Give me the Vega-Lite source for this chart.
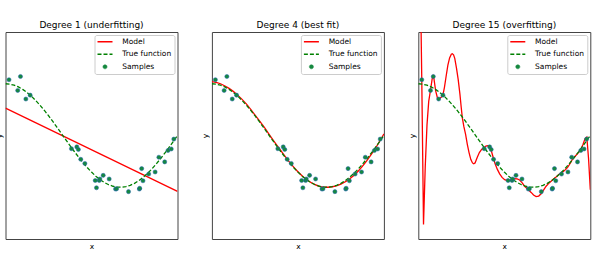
{
  "$schema": "https://vega.github.io/schema/vega-lite/v6.json",
  "padding": {"left": -5.5, "top": 20, "right": 0, "bottom": 0},
  "datasets": {
    "samples": [
      {"x": 0.0202, "y": 1.078}, {"x": 0.0710, "y": 0.87}, {"x": 0.0871, "y": 1.14}, {"x": 0.1183, "y": 0.705}, {"x": 0.1434, "y": 0.78},
      {"x": 0.3834, "y": -0.255}, {"x": 0.4147, "y": -0.22}, {"x": 0.4237, "y": -0.27}, {"x": 0.4376, "y": -0.46}, {"x": 0.4615, "y": -0.54},
      {"x": 0.5218, "y": -0.87}, {"x": 0.5289, "y": -1.01}, {"x": 0.5449, "y": -0.87}, {"x": 0.5488, "y": -0.84}, {"x": 0.5680, "y": -0.77},
      {"x": 0.6028, "y": -0.84}, {"x": 0.6399, "y": -1.035}, {"x": 0.6459, "y": -1.03}, {"x": 0.7152, "y": -1.085}, {"x": 0.7782, "y": -1.035},
      {"x": 0.7805, "y": -1.02}, {"x": 0.7917, "y": -0.64}, {"x": 0.7992, "y": -0.875}, {"x": 0.8326, "y": -0.745}, {"x": 0.8700, "y": -0.705},
      {"x": 0.8918, "y": -0.42}, {"x": 0.9256, "y": -0.51}, {"x": 0.9447, "y": -0.29}, {"x": 0.9637, "y": -0.26}, {"x": 0.9786, "y": -0.07}
    ],
    "truth": [
      {"x": 0, "y": 1}, {"x": 0.025, "y": 0.99307}, {"x": 0.05, "y": 0.97237}, {"x": 0.075, "y": 0.93819}, {"x": 0.1, "y": 0.89101},
      {"x": 0.125, "y": 0.83147}, {"x": 0.15, "y": 0.76041}, {"x": 0.175, "y": 0.6788}, {"x": 0.2, "y": 0.58779}, {"x": 0.225, "y": 0.48862},
      {"x": 0.25, "y": 0.38268}, {"x": 0.275, "y": 0.27144}, {"x": 0.3, "y": 0.15643}, {"x": 0.325, "y": 0.03926}, {"x": 0.35, "y": -0.07846},
      {"x": 0.375, "y": -0.19509}, {"x": 0.4, "y": -0.30902}, {"x": 0.425, "y": -0.41866}, {"x": 0.45, "y": -0.5225}, {"x": 0.475, "y": -0.61909},
      {"x": 0.5, "y": -0.70711}, {"x": 0.525, "y": -0.78531}, {"x": 0.55, "y": -0.85264}, {"x": 0.575, "y": -0.90814}, {"x": 0.6, "y": -0.95106},
      {"x": 0.625, "y": -0.98079}, {"x": 0.65, "y": -0.99692}, {"x": 0.675, "y": -0.99923}, {"x": 0.7, "y": -0.98769}, {"x": 0.725, "y": -0.96246},
      {"x": 0.75, "y": -0.92388}, {"x": 0.775, "y": -0.8725}, {"x": 0.8, "y": -0.80902}, {"x": 0.825, "y": -0.73432}, {"x": 0.85, "y": -0.64945},
      {"x": 0.875, "y": -0.55557}, {"x": 0.9, "y": -0.45399}, {"x": 0.925, "y": -0.34612}, {"x": 0.95, "y": -0.23345}, {"x": 0.975, "y": -0.11753},
      {"x": 1, "y": 0}
    ],
    "m1": [{"x": 0, "y": 0.53}, {"x": 1, "y": -1.08}],
    "m4": [
      {"x": 0, "y": 1.04}, {"x": 0.05, "y": 1.0}, {"x": 0.1, "y": 0.91}, {"x": 0.15, "y": 0.78}, {"x": 0.2, "y": 0.61},
      {"x": 0.25, "y": 0.4}, {"x": 0.3, "y": 0.18}, {"x": 0.35, "y": -0.06}, {"x": 0.4, "y": -0.29}, {"x": 0.45, "y": -0.51},
      {"x": 0.5, "y": -0.7}, {"x": 0.55, "y": -0.85}, {"x": 0.6, "y": -0.95}, {"x": 0.65, "y": -1.0}, {"x": 0.7, "y": -0.99},
      {"x": 0.75, "y": -0.94}, {"x": 0.8, "y": -0.84}, {"x": 0.85, "y": -0.69}, {"x": 0.9, "y": -0.49}, {"x": 0.95, "y": -0.25},
      {"x": 1, "y": 0.03}
    ],
    "m15": [
      {"x": 0, "y": 6}, {"x": 0.0101, "y": 3.5}, {"x": 0.0202, "y": 1.08}, {"x": 0.0303, "y": -1.72}, {"x": 0.0404, "y": -0.6},
      {"x": 0.0505, "y": 0.2}, {"x": 0.0606, "y": 0.66}, {"x": 0.0707, "y": 0.87}, {"x": 0.0808, "y": 1.1}, {"x": 0.0859, "y": 1.15},
      {"x": 0.0909, "y": 1.1}, {"x": 0.101, "y": 0.86}, {"x": 0.111, "y": 0.73}, {"x": 0.118, "y": 0.7}, {"x": 0.126, "y": 0.72},
      {"x": 0.136, "y": 0.75}, {"x": 0.143, "y": 0.78}, {"x": 0.152, "y": 0.93}, {"x": 0.162, "y": 1.15}, {"x": 0.172, "y": 1.36},
      {"x": 0.182, "y": 1.5}, {"x": 0.192, "y": 1.57}, {"x": 0.198, "y": 1.58}, {"x": 0.205, "y": 1.56}, {"x": 0.212, "y": 1.49},
      {"x": 0.222, "y": 1.3}, {"x": 0.232, "y": 1.08}, {"x": 0.242, "y": 0.8}, {"x": 0.249, "y": 0.56}, {"x": 0.256, "y": 0.34},
      {"x": 0.265, "y": 0.17}, {"x": 0.275, "y": 0.02}, {"x": 0.285, "y": -0.17}, {"x": 0.295, "y": -0.33}, {"x": 0.305, "y": -0.46},
      {"x": 0.315, "y": -0.53}, {"x": 0.322, "y": -0.545}, {"x": 0.33, "y": -0.53}, {"x": 0.343, "y": -0.42}, {"x": 0.355, "y": -0.33},
      {"x": 0.368, "y": -0.27}, {"x": 0.381, "y": -0.235}, {"x": 0.393, "y": -0.205}, {"x": 0.402, "y": -0.195}, {"x": 0.412, "y": -0.21},
      {"x": 0.424, "y": -0.29}, {"x": 0.436, "y": -0.43}, {"x": 0.446, "y": -0.54}, {"x": 0.459, "y": -0.65}, {"x": 0.473, "y": -0.74},
      {"x": 0.487, "y": -0.81}, {"x": 0.502, "y": -0.855}, {"x": 0.517, "y": -0.87}, {"x": 0.531, "y": -0.87}, {"x": 0.545, "y": -0.85},
      {"x": 0.56, "y": -0.835}, {"x": 0.575, "y": -0.84}, {"x": 0.589, "y": -0.86}, {"x": 0.603, "y": -0.91}, {"x": 0.618, "y": -0.98},
      {"x": 0.637, "y": -1.04}, {"x": 0.656, "y": -1.1}, {"x": 0.67, "y": -1.15}, {"x": 0.685, "y": -1.18}, {"x": 0.7, "y": -1.17},
      {"x": 0.714, "y": -1.125}, {"x": 0.729, "y": -1.05}, {"x": 0.743, "y": -0.98}, {"x": 0.757, "y": -0.93}, {"x": 0.772, "y": -0.885},
      {"x": 0.786, "y": -0.84}, {"x": 0.801, "y": -0.8}, {"x": 0.815, "y": -0.76}, {"x": 0.83, "y": -0.725}, {"x": 0.845, "y": -0.69},
      {"x": 0.859, "y": -0.65}, {"x": 0.869, "y": -0.61}, {"x": 0.878, "y": -0.565}, {"x": 0.888, "y": -0.51}, {"x": 0.897, "y": -0.455},
      {"x": 0.912, "y": -0.4}, {"x": 0.926, "y": -0.35}, {"x": 0.936, "y": -0.31}, {"x": 0.946, "y": -0.26}, {"x": 0.958, "y": -0.17},
      {"x": 0.9697, "y": -0.06}, {"x": 0.9798, "y": -0.03}, {"x": 0.9899, "y": -0.45}, {"x": 1, "y": -1.05}
    ]
  },
  "spacing": 34.4,
  "bounds": "flush",
  "resolve": {"scale": {"color": "independent"}},
  "hconcat": [
    {
      "width": 172, "height": 207,
      "title": "Degree 1 (underfitting)",
      "layer": [
        {"data": {"name": "m1"}, "mark": {"type": "line", "clip": true, "strokeWidth": 1.3},
         "encoding": {
           "x": {"field": "x", "type": "quantitative", "scale": {"domain": [0, 1], "nice": false, "zero": false}, "axis": {"title": "x"}},
           "y": {"field": "y", "type": "quantitative", "scale": {"domain": [-2, 2], "nice": false}, "axis": {"title": "y"}},
           "color": {"datum": "Model", "type": "nominal", "scale": {"domain": ["Model", "True function", "Samples"], "range": ["#ff0000", "#008000", "#15883f"]},
             "legend": {
               "orient": "top-right", "offset": 3, "title": null, "padding": 3,
               "strokeColor": "#cccccc", "fillColor": "rgba(255,255,255,0.85)", "cornerRadius": 2,
               "labelFontSize": 7.5, "labelColor": "#000000", "symbolOffset": 3.75, "labelOffset": 13.5, "rowPadding": 3.5,
               "symbolSize": 56, "symbolType": "stroke", "symbolStrokeWidth": 1.3,
               "encode": {"symbols": {"update": {
                 "shape": {"signal": "datum.value === 'Samples' ? 'circle' : 'stroke'"},
                 "size": {"signal": "datum.value === 'Samples' ? 17 : 225"},
                 "strokeDash": {"signal": "datum.value === 'True function' ? [4, 2] : [1, 0]"},
                 "strokeWidth": {"signal": "datum.value === 'Samples' ? 0.5 : 1.3"},
                 "stroke": {"signal": "datum.value === 'Model' ? '#ff0000' : datum.value === 'True function' ? '#008000' : '#2060b0'"},
                 "fill": {"signal": "datum.value === 'Samples' ? '#15883f' : 'transparent'"},
                 "opacity": {"value": 1}
               }}}
             }}
         }},
        {"data": {"name": "truth"}, "mark": {"type": "line", "clip": true, "strokeWidth": 1.3, "strokeDash": [4, 2]},
         "encoding": {"x": {"field": "x", "type": "quantitative"}, "y": {"field": "y", "type": "quantitative"}, "color": {"datum": "True function", "type": "nominal"}}},
        {"data": {"name": "samples"}, "mark": {"type": "point", "filled": true, "size": 17, "opacity": 1, "stroke": "#2060b0", "strokeWidth": 0.5},
         "encoding": {"x": {"field": "x", "type": "quantitative"}, "y": {"field": "y", "type": "quantitative"}, "color": {"datum": "Samples", "type": "nominal"}}}
      ]
    },
    {
      "width": 172, "height": 207,
      "title": "Degree 4 (best fit)",
      "layer": [
        {"data": {"name": "m4"}, "mark": {"type": "line", "clip": true, "strokeWidth": 1.3, "interpolate": "monotone"},
         "encoding": {
           "x": {"field": "x", "type": "quantitative", "scale": {"domain": [0, 1], "nice": false, "zero": false}, "axis": {"title": "x"}},
           "y": {"field": "y", "type": "quantitative", "scale": {"domain": [-2, 2], "nice": false}, "axis": {"title": "y"}},
           "color": {"datum": "Model", "type": "nominal", "scale": {"domain": ["Model", "True function", "Samples"], "range": ["#ff0000", "#008000", "#15883f"]},
             "legend": {
               "orient": "top-right", "offset": 3, "title": null, "padding": 3,
               "strokeColor": "#cccccc", "fillColor": "rgba(255,255,255,0.85)", "cornerRadius": 2,
               "labelFontSize": 7.5, "labelColor": "#000000", "symbolOffset": 3.75, "labelOffset": 13.5, "rowPadding": 3.5,
               "symbolSize": 56, "symbolType": "stroke", "symbolStrokeWidth": 1.3,
               "encode": {"symbols": {"update": {
                 "shape": {"signal": "datum.value === 'Samples' ? 'circle' : 'stroke'"},
                 "size": {"signal": "datum.value === 'Samples' ? 17 : 225"},
                 "strokeDash": {"signal": "datum.value === 'True function' ? [4, 2] : [1, 0]"},
                 "strokeWidth": {"signal": "datum.value === 'Samples' ? 0.5 : 1.3"},
                 "stroke": {"signal": "datum.value === 'Model' ? '#ff0000' : datum.value === 'True function' ? '#008000' : '#2060b0'"},
                 "fill": {"signal": "datum.value === 'Samples' ? '#15883f' : 'transparent'"},
                 "opacity": {"value": 1}
               }}}
             }}
         }},
        {"data": {"name": "truth"}, "mark": {"type": "line", "clip": true, "strokeWidth": 1.3, "strokeDash": [4, 2]},
         "encoding": {"x": {"field": "x", "type": "quantitative"}, "y": {"field": "y", "type": "quantitative"}, "color": {"datum": "True function", "type": "nominal"}}},
        {"data": {"name": "samples"}, "mark": {"type": "point", "filled": true, "size": 17, "opacity": 1, "stroke": "#2060b0", "strokeWidth": 0.5},
         "encoding": {"x": {"field": "x", "type": "quantitative"}, "y": {"field": "y", "type": "quantitative"}, "color": {"datum": "Samples", "type": "nominal"}}}
      ]
    },
    {
      "width": 172, "height": 207,
      "title": "Degree 15 (overfitting)",
      "layer": [
        {"data": {"name": "m15"}, "mark": {"type": "line", "clip": true, "strokeWidth": 1.3},
         "encoding": {
           "x": {"field": "x", "type": "quantitative", "scale": {"domain": [0, 1], "nice": false, "zero": false}, "axis": {"title": "x"}},
           "y": {"field": "y", "type": "quantitative", "scale": {"domain": [-2, 2], "nice": false}, "axis": {"title": "y"}},
           "color": {"datum": "Model", "type": "nominal", "scale": {"domain": ["Model", "True function", "Samples"], "range": ["#ff0000", "#008000", "#15883f"]},
             "legend": {
               "orient": "top-right", "offset": 3, "title": null, "padding": 3,
               "strokeColor": "#cccccc", "fillColor": "rgba(255,255,255,0.85)", "cornerRadius": 2,
               "labelFontSize": 7.5, "labelColor": "#000000", "symbolOffset": 3.75, "labelOffset": 13.5, "rowPadding": 3.5,
               "symbolSize": 56, "symbolType": "stroke", "symbolStrokeWidth": 1.3,
               "encode": {"symbols": {"update": {
                 "shape": {"signal": "datum.value === 'Samples' ? 'circle' : 'stroke'"},
                 "size": {"signal": "datum.value === 'Samples' ? 17 : 225"},
                 "strokeDash": {"signal": "datum.value === 'True function' ? [4, 2] : [1, 0]"},
                 "strokeWidth": {"signal": "datum.value === 'Samples' ? 0.5 : 1.3"},
                 "stroke": {"signal": "datum.value === 'Model' ? '#ff0000' : datum.value === 'True function' ? '#008000' : '#2060b0'"},
                 "fill": {"signal": "datum.value === 'Samples' ? '#15883f' : 'transparent'"},
                 "opacity": {"value": 1}
               }}}
             }}
         }},
        {"data": {"name": "truth"}, "mark": {"type": "line", "clip": true, "strokeWidth": 1.3, "strokeDash": [4, 2]},
         "encoding": {"x": {"field": "x", "type": "quantitative"}, "y": {"field": "y", "type": "quantitative"}, "color": {"datum": "True function", "type": "nominal"}}},
        {"data": {"name": "samples"}, "mark": {"type": "point", "filled": true, "size": 17, "opacity": 1, "stroke": "#2060b0", "strokeWidth": 0.5},
         "encoding": {"x": {"field": "x", "type": "quantitative"}, "y": {"field": "y", "type": "quantitative"}, "color": {"datum": "Samples", "type": "nominal"}}}
      ]
    }
  ],
  "config": {
    "font": "DejaVu Sans",
    "background": "white",
    "view": {"stroke": "#444444", "strokeWidth": 1},
    "title": {"fontSize": 9, "fontWeight": "normal", "offset": 2.5, "color": "#000000"},
    "axis": {"ticks": false, "labels": false, "grid": false, "domain": false, "titleFontSize": 7.5, "titleFontWeight": "normal", "titlePadding": 3, "titleColor": "#000000"},
    "axisY": {"titlePadding": 2}
  }
}
